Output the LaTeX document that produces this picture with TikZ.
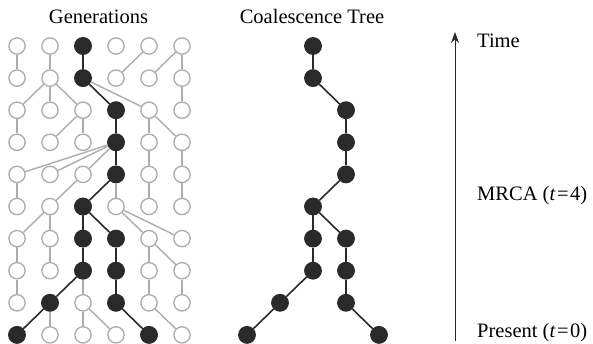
\documentclass[tikz,border=0pt]{standalone}
\usepackage{fontspec}
\setmainfont{Liberation Serif}
\usetikzlibrary{arrows.meta}
\definecolor{lightg}{RGB}{172,172,172}
\definecolor{darkn}{RGB}{42,42,42}
\begin{document}
\begin{tikzpicture}[x=1pt,y=-1pt,
  gnode/.style={circle,draw=lightg,line width=1.3pt,fill=white,minimum size=16.3pt,inner sep=0pt},
  bnode/.style={circle,draw=darkn,line width=1pt,fill=darkn,minimum size=16.8pt,inner sep=0pt},
  gedge/.style={draw=lightg,line width=1.4pt},
  bedge/.style={draw=darkn,line width=1.6pt},
  lbl/.style={inner sep=0pt,font=\fontsize{20.5}{24}\selectfont}]
\useasboundingbox (0,0) rectangle (593,344);
% generation grid
\foreach \r in {0,...,9}
  \foreach \c in {0,...,5}
    \node[gnode] (g-\r-\c) at ({17+33*\c},{46+32.1*\r}) {};
% black lineage nodes (grid and tree)
\foreach \r/\c in {0/2,1/2,2/3,3/3,4/3,5/2,6/2,6/3,7/2,7/3,8/1,8/3,9/0,9/4}{
  \node[bnode] (g-\r-\c) at ({17+33*\c},{46+32.1*\r}) {};
  \node[bnode] (t-\r-\c) at ({247+33*\c},{46+32.1*\r}) {};
}
% gray edges
\foreach \a/\b/\c/\d in {0/0/1/0,0/1/1/1,0/4/1/3,0/5/1/4,0/5/1/5,
  1/1/2/0,1/1/2/1,1/1/2/2,1/2/2/4,1/5/2/5,
  2/0/3/0,2/2/3/1,2/2/3/2,2/4/3/4,2/4/3/5,
  3/3/4/0,3/3/4/1,3/3/4/2,3/4/4/4,3/5/4/5,
  4/0/5/0,4/2/5/1,4/3/5/3,4/4/5/4,4/5/5/5,
  5/1/6/0,5/1/6/1,5/3/6/4,5/3/6/5,
  6/0/7/0,6/1/7/1,6/4/7/4,6/4/7/5,
  7/0/8/0,7/2/8/2,7/4/8/4,7/5/8/5,
  8/1/9/1,8/2/9/2,8/2/9/3,8/4/9/5}
  \draw[gedge] (g-\a-\b) -- (g-\c-\d);
% black edges (grid and tree)
\foreach \a/\b/\c/\d in {0/2/1/2,1/2/2/3,2/3/3/3,3/3/4/3,4/3/5/2,
  5/2/6/2,5/2/6/3,6/2/7/2,6/3/7/3,7/2/8/1,7/3/8/3,8/1/9/0,8/3/9/4}{
  \draw[bedge] (g-\a-\b) -- (g-\c-\d);
  \draw[bedge] (t-\a-\b) -- (t-\c-\d);
}
% titles
\node[lbl,anchor=base] (gt) at (98.5,23.5) {Generations};
\node[lbl,anchor=base] (ct) at (312,23.5) {Coalescence Tree};
% time axis
\coordinate (abot) at (455,341);
\coordinate (atop) at (455,32);
\draw[line width=1pt,darkn,-{Stealth[length=11pt,width=8pt]}] (abot) -- (atop);
\node[lbl,anchor=base west] (time) at (477,47.3) {Time};
\node[lbl,anchor=base west] (mrca) at (477,200.7) {MRCA (\textit{t}\kern1.5pt=\kern1.5pt4)};
\node[lbl,anchor=base west] (pres) at (477,337) {Present (\textit{t}\kern1.5pt=\kern1.5pt0)};
\end{tikzpicture}
\end{document}
